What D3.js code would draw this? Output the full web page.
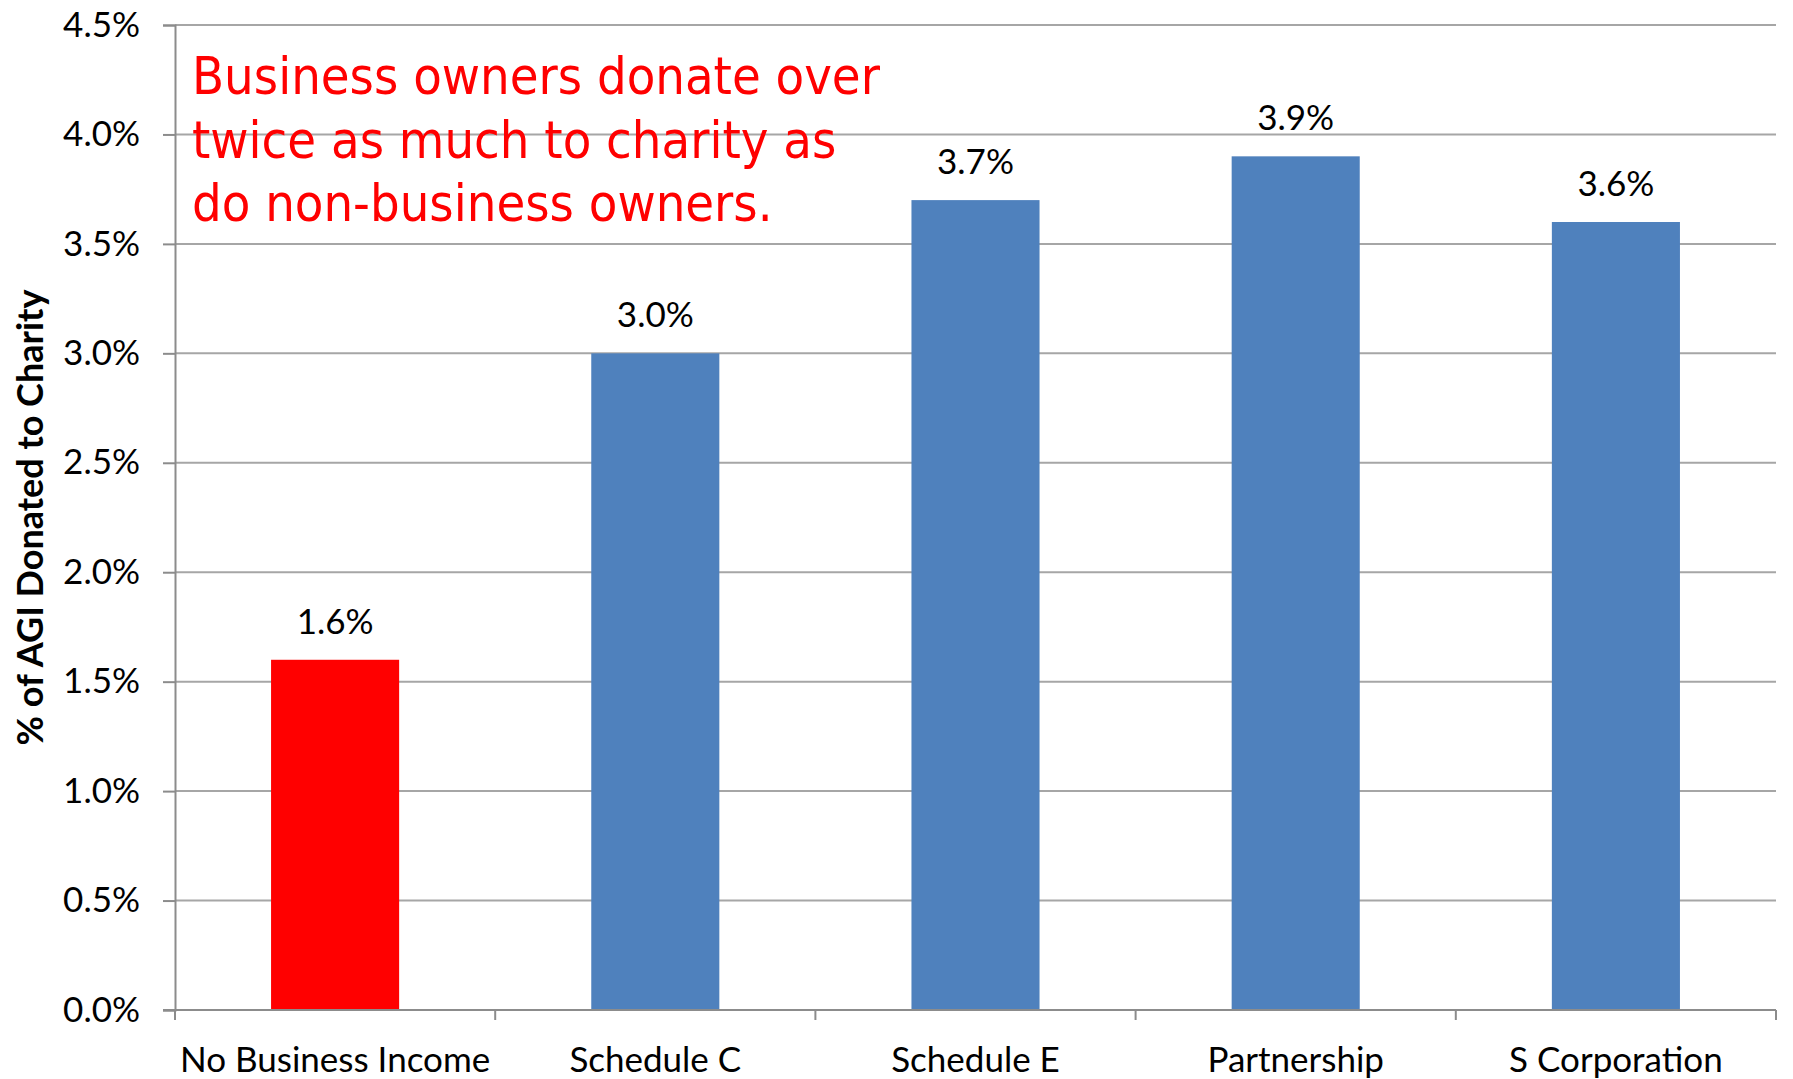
<!DOCTYPE html>
<html>
<head>
<meta charset="utf-8">
<script src="https://cdn.jsdelivr.net/npm/d3@7"></script>
<style>
  body { margin: 0; background: #fff; }
  svg { display: block; }
</style>
</head>
<body>
<svg id="chartSVG"></svg>
<script>
// chart values
let categories = ["No Business Income", "Schedule C", "Schedule E", "Partnership", "S Corporation"];
let values = [1.6, 3.0, 3.7, 3.9, 3.6];
let valueLabels = ["1.6%", "3.0%", "3.7%", "3.9%", "3.6%"];
let yTicks = [0, 0.5, 1.0, 1.5, 2.0, 2.5, 3.0, 3.5, 4.0, 4.5];
let yTitle = "% of AGI Donated to Charity";
let noteLines = ["Business owners donate over", "twice as much to charity as", "do non-business owners."];

function drawChart() {
  let width = 1793;
  let height = 1079;

  let paddingLeft = 175;
  let paddingRight = 17;
  let paddingTop = 25;
  let paddingBottom = 69;

  let svg = d3.select("#chartSVG").attr("width", width).attr("height", height);

  let labelFont = "Lato, 'Open Sans', sans-serif";
  let labelSize = 35;

  let xScale = d3
    .scaleBand()
    .domain(categories)
    .range([paddingLeft, width - paddingRight])
    .paddingInner(0.6)
    .paddingOuter(0.3);

  let yScale = d3
    .scaleLinear()
    .domain([0, 4.5])
    .range([height - paddingBottom, paddingTop]);

  //gridlines
  svg
    .append("g")
    .selectAll("line")
    .data(yTicks.filter((d) => d > 0))
    .join("line")
    .attr("x1", paddingLeft)
    .attr("x2", width - paddingRight)
    .attr("y1", (d) => yScale(d))
    .attr("y2", (d) => yScale(d))
    .attr("stroke", "#a6a6a6")
    .attr("stroke-width", 2);

  //bars
  svg
    .append("g")
    .selectAll("rect")
    .data(values)
    .join("rect")
    .attr("x", (d, i) => xScale(categories[i]))
    .attr("width", xScale.bandwidth())
    .attr("y", (d) => yScale(d))
    .attr("height", (d) => yScale(0) - yScale(d))
    .attr("fill", (d, i) => (i == 0 ? "#ff0000" : "#4f81bd"));

  //y axis
  let yAxis = d3
    .axisLeft(yScale)
    .tickValues(yTicks)
    .tickSize(12)
    .tickPadding(23)
    .tickFormat((d) => d.toFixed(1) + "%");

  let yG = svg
    .append("g")
    .attr("transform", "translate(" + paddingLeft + ",0)")
    .call(yAxis);
  yG.selectAll("line, path").attr("stroke", "#8c8c8c").attr("stroke-width", 2);
  yG.selectAll("text")
    .attr("font-family", labelFont)
    .attr("font-size", labelSize)
    .attr("fill", "#000");

  //x axis, ticks sit between categories
  let step = xScale.step();
  let bounds = d3.range(categories.length + 1).map((i) => paddingLeft + i * step);
  let xG = svg.append("g");
  xG.append("line")
    .attr("x1", paddingLeft - 12)
    .attr("x2", width - paddingRight)
    .attr("y1", yScale(0))
    .attr("y2", yScale(0))
    .attr("stroke", "#8c8c8c")
    .attr("stroke-width", 2);
  xG.selectAll(".tick")
    .data(bounds)
    .join("line")
    .attr("x1", (d) => d)
    .attr("x2", (d) => d)
    .attr("y1", yScale(0))
    .attr("y2", yScale(0) + 10)
    .attr("stroke", "#8c8c8c")
    .attr("stroke-width", 2);
  xG.selectAll("text")
    .data(categories)
    .join("text")
    .attr("x", (d) => xScale(d) + xScale.bandwidth() / 2)
    .attr("y", yScale(0) + 62)
    .attr("text-anchor", "middle")
    .attr("font-family", labelFont)
    .attr("font-size", labelSize)
    .text((d) => d);

  //value labels
  svg
    .append("g")
    .selectAll("text")
    .data(values)
    .join("text")
    .attr("x", (d, i) => xScale(categories[i]) + xScale.bandwidth() / 2)
    .attr("y", (d) => yScale(d) - 26)
    .attr("text-anchor", "middle")
    .attr("font-family", labelFont)
    .attr("font-size", labelSize)
    .text((d, i) => valueLabels[i]);

  //axis title
  svg
    .append("text")
    .attr("transform", "translate(43," + (paddingTop + height - paddingBottom) / 2 + ") rotate(-90)")
    .attr("text-anchor", "middle")
    .attr("font-family", labelFont)
    .attr("font-weight", "bold")
    .attr("font-size", 36)
    .text(yTitle);

  //red note
  svg
    .append("text")
    .attr("font-family", "'DejaVu Sans Condensed', 'DejaVu Sans', sans-serif")
    .attr("font-size", 52)
    .attr("fill", "#ff0000")
    .selectAll("tspan")
    .data(noteLines)
    .join("tspan")
    .attr("x", 192)
    .attr("y", (d, i) => 94 + i * 63.5)
    .text((d) => d);
}

drawChart();
</script>
</body>
</html>
